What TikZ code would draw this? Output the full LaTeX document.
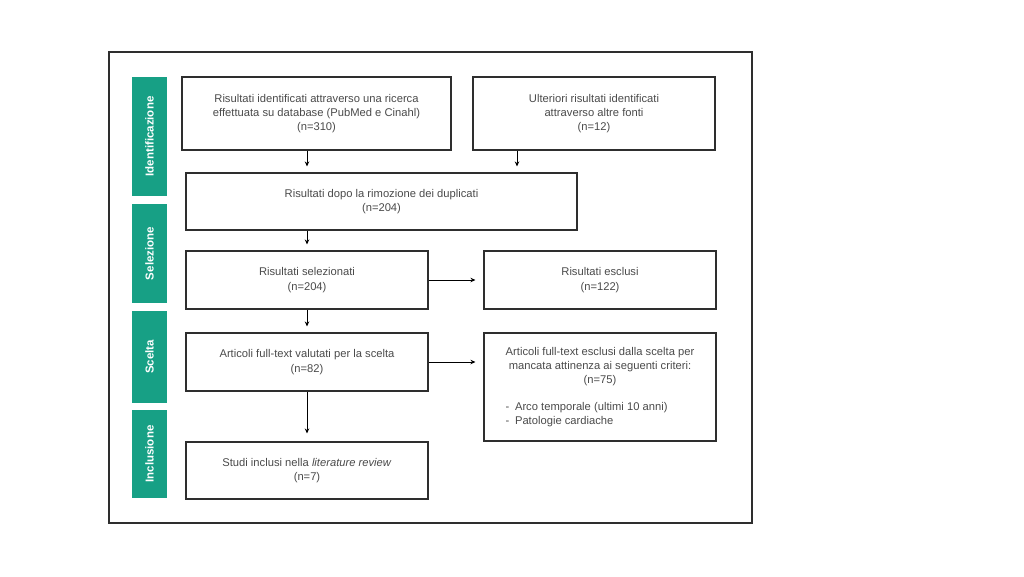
\documentclass[tikz,border=0pt]{standalone}
\usepackage{fontspec}
\setmainfont{Liberation Sans}
\usetikzlibrary{arrows.meta}
\definecolor{phase}{HTML}{17A085}
\definecolor{txt}{HTML}{4A4A4A}
\definecolor{edge}{HTML}{2E2E2E}
\tikzset{
  x=1pt,y=-1pt,
  box/.style={draw=edge, line width=1.1pt, align=center, text=txt, font=\fontsize{11.2}{14.3}\selectfont, inner sep=0pt},
  phaselabel/.style={fill=phase, text=white, rotate=90, font=\bfseries\fontsize{11.5}{13}\selectfont, minimum height=35, inner sep=0pt},
  arr/.style={draw=black, line width=0.9pt, -{Stealth[length=5pt,width=4.5pt]}},
  varr/.style={arr, shorten >=6pt},
  harr/.style={arr, shorten >=8pt},
}
\begin{document}
\begin{tikzpicture}
\useasboundingbox (0,0) rectangle (1024,576);
\node[draw=edge, line width=1.1pt, minimum width=643, minimum height=471, inner sep=0pt] (frame) at (430.5,287.5) {};

\node[phaselabel, minimum width=119] (p1) at (149.5,136.5) {Identificazione};
\node[phaselabel, minimum width=99] (p2) at (149.5,253.5) {Selezione};
\node[phaselabel, minimum width=92] (p3) at (149.5,357) {Scelta};
\node[phaselabel, minimum width=88] (p4) at (149.5,454) {Inclusione};

\node[box, minimum width=269, minimum height=73] (b1) at (316.5,113.5) {Risultati identificati attraverso una ricerca\\effettuata su database (PubMed e Cinahl)\\(n=310)};
\node[box, minimum width=242, minimum height=73] (b2) at (594,113.5) {Ulteriori risultati identificati\\attraverso altre fonti\\(n=12)};
\node[box, minimum width=391, minimum height=57] (b3) at (381.5,201.5) {Risultati dopo la rimozione dei duplicati\\(n=204)};
\node[box, minimum width=242, minimum height=58] (b4) at (307,280) {Risultati selezionati\\(n=204)};
\node[box, minimum width=232, minimum height=58] (b5) at (600,280) {Risultati esclusi\\(n=122)};
\node[box, minimum width=242, minimum height=58] (b6) at (307,362) {Articoli full-text valutati per la scelta\\(n=82)};
\node[box, minimum width=232, minimum height=108] (b7) at (600,387) {\begin{tabular}{@{}l@{}}
\multicolumn{1}{@{}c@{}}{Articoli full-text esclusi dalla scelta per}\\
\multicolumn{1}{@{}c@{}}{mancata attinenza ai seguenti criteri:}\\
\multicolumn{1}{@{}c@{}}{(n=75)}\\[12pt]
-\enspace Arco temporale (ultimi 10 anni)\\
-\enspace Patologie cardiache
\end{tabular}};
\node[box, minimum width=242, minimum height=57] (b8) at (307,470.5) {Studi inclusi nella \textit{literature review}\\(n=7)};

\coordinate (x2) at (517,0);
\draw[varr] (b1.south -| b4) -- (b3.north -| b4);
\draw[varr] (b2.south -| x2) -- (b3.north -| x2);
\draw[varr] (b3.south -| b4) -- (b4.north);
\draw[varr] (b4.south) -- (b6.north);
\draw[harr] (b6.south) -- (b8.north);
\draw[harr] (b4.east) -- (b5.west);
\draw[harr] (b6.east) -- (b7.west |- b6.east);
\end{tikzpicture}
\end{document}
